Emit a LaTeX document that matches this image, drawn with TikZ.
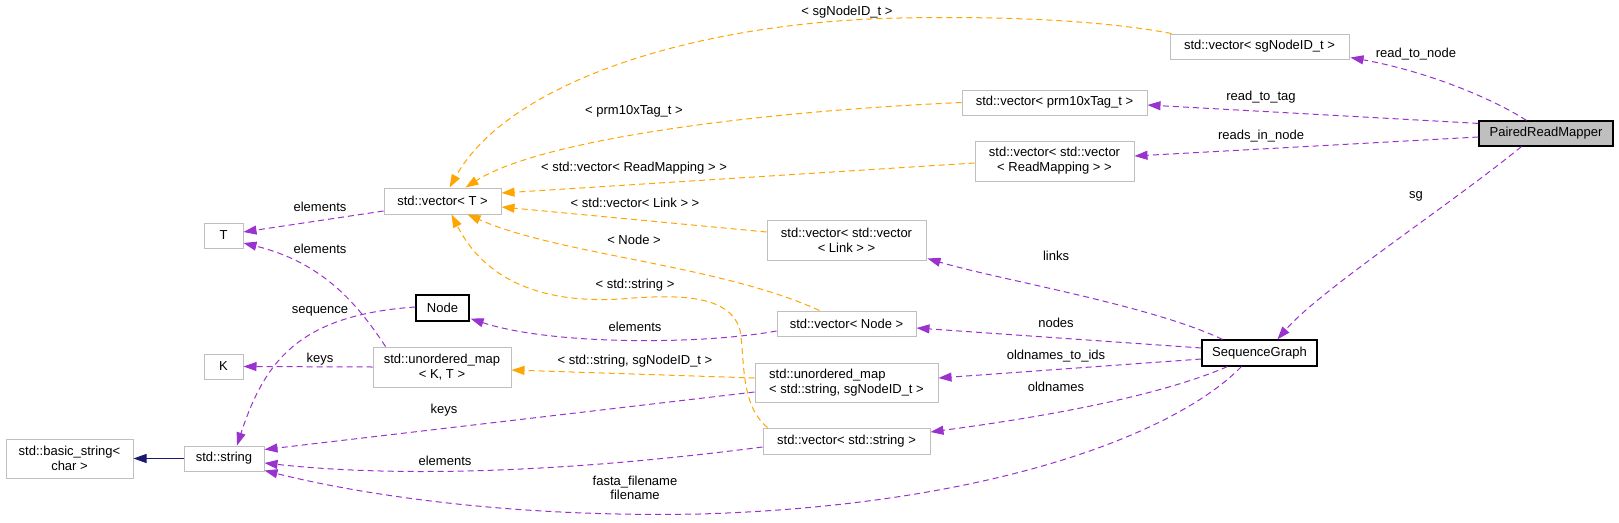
\documentclass[tikz,border=0pt]{standalone}
\usepackage{fontspec}
\setmainfont{Liberation Sans}
\usetikzlibrary{arrows.meta,calc}
\definecolor{usecol}{HTML}{9A32CD}
\definecolor{tplcol}{HTML}{FFA500}
\definecolor{inhcol}{HTML}{191970}
\definecolor{boxgray}{HTML}{BFBFBF}
\begin{document}
\begin{tikzpicture}[x=1pt,y=-1pt,
  font=\fontsize{13}{15}\selectfont,
  cls/.style={draw=boxgray, line width=1pt, fill=white, inner sep=0pt, align=center, minimum height=25},
  doc/.style={cls, draw=black, line width=1.2pt},
  lbl/.style={inner sep=0pt, align=center},
  uses/.style={draw=usecol, line width=1pt, dash pattern=on 6pt off 4pt, -{Triangle[length=13pt,width=9pt]}},
  tpl/.style={draw=tplcol, line width=1pt, dash pattern=on 6pt off 4pt, -{Triangle[length=13pt,width=9pt]}},
  inh/.style={draw=inhcol, line width=1pt, -{Triangle[length=13pt,width=9pt]}}
]
\useasboundingbox (0,0) rectangle (1619,522);

% nodes
\node[cls, minimum width=179] (sgv) at (1259.5,46.5) {std::vector< sgNodeID\_t >};
\node[doc, fill=boxgray, minimum width=134] (prm) at (1546,133.5) {PairedReadMapper};
\node[cls, minimum width=185] (tagv) at (1054.5,102.5) {std::vector< prm10xTag\_t >};
\node[cls, minimum width=159, minimum height=40] (rmv) at (1054.5,161) {std::vector< std::vector\\< ReadMapping > >};
\node[cls, minimum width=117, minimum height=26] (vt) at (442.5,201) {std::vector< T >};
\node[cls, minimum width=39] (T) at (223.5,235.5) {T};
\node[cls, minimum width=159, minimum height=40] (linkv) at (846.5,240) {std::vector< std::vector\\< Link > >};
\node[doc, minimum width=53, minimum height=26] (Nd) at (442.5,308) {Node};
\node[cls, minimum width=139] (nodev) at (846.5,323.5) {std::vector< Node >};
\node[doc, minimum width=115, minimum height=26] (sg) at (1259.5,353) {SequenceGraph};
\node[cls, minimum width=39] (K) at (223.5,366.5) {K};
\node[cls, minimum width=138, minimum height=40] (umkt) at (442,367) {std::unordered\_map\\< K, T >};
\node[cls, minimum width=183, minimum height=39, align=left] (umss) at (846.5,382.5) {std::unordered\_map\\< std::string, sgNodeID\_t >};
\node[cls, minimum width=167, minimum height=26] (strv) at (846.5,441) {std::vector< std::string >};
\node[cls, minimum width=127, minimum height=39] (bstr) at (69.5,458.5) {std::basic\_string<\\char >};
\node[cls, minimum width=80] (str) at (224,458.5) {std::string};

% usage edges
\draw[uses] ($(prm.north west)+(48,0)$) .. controls (1495,100) and (1430,72) .. ($(sgv.south east)+(1,-2)$);
\draw[uses] ($(prm.north west)+(0,3)$) -- ($(tagv.east)+(0,2.5)$);
\draw[uses] ($(prm.west)+(0,3.5)$) -- ($(rmv.east)+(0,-5)$);
\draw[uses] ($(prm.south west)+(43,0)$) .. controls (1450,205) and (1320,290) .. ($(sg.north west)+(76,0)$);
\draw[uses] ($(sg.north west)+(21,0)$) .. controls (1150,305) and (1000,280) .. ($(linkv.south east)+(1,-2)$);
\draw[uses] ($(sg.west)+(0,-5)$) -- ($(nodev.east)+(0,4.5)$);
\draw[uses] ($(sg.west)+(0,6)$) -- ($(umss.east)+(0,-4.5)$);
\draw[uses] ($(sg.south west)+(26,0)$) .. controls (1150,400) and (1020,420) .. ($(strv.east)+(0,-9)$);
\draw[uses] ($(sg.south west)+(40,0)$) .. controls (1180,430) and (1000,505) .. (700,514) .. controls (500,518) and (350,492) .. ($(str.south east)+(0,-1)$);
\draw[uses] ($(strv.west)+(0,6)$) .. controls (600,468) and (420,480) .. ($(str.east)+(0,4.5)$);
\draw[uses] ($(umss.west)+(0,9.5)$) -- ($(str.north east)+(0,4)$);
\draw[uses] ($(Nd.west)+(0,-1)$) .. controls (300,315) and (265,360) .. ($(str.north)+(13,0)$);
\draw[uses] ($(nodev.west)+(0,7.5)$) .. controls (700,345) and (550,345) .. ($(Nd.south east)+(1,-3)$);
\draw[uses] (umkt.west) -- (K.east);
\draw[uses] ($(umkt.north west)+(13,0)$) .. controls (355,300) and (320,262) .. ($(T.east)+(0,7.5)$);
\draw[uses] ($(vt.west)+(0,10)$) -- ($(T.east)+(0,-3.5)$);

% template edges
\draw[tpl] ($(sgv.north west)+(2,0)$) .. controls (1100,20) and (1000,16) .. (900,18) .. controls (700,22) and (510,80) .. ($(vt.north west)+(66,0)$);
\draw[tpl] (tagv.west) .. controls (750,112) and (540,140) .. ($(vt.north west)+(82,0)$);
\draw[tpl] ($(rmv.west)+(0,2)$) -- ($(vt.east)+(0,-8)$);
\draw[tpl] ($(linkv.west)+(0,-8)$) -- ($(vt.east)+(0,6)$);
\draw[tpl] ($(nodev.north west)+(43,0)$) .. controls (720,265) and (560,255) .. ($(vt.south west)+(84,0)$);
\draw[tpl] ($(strv.north west)+(5,0)$) .. controls (740,405) and (745,360) .. (740,330) .. controls (730,295) and (680,295) .. (633,298) .. controls (560,305) and (490,290) .. ($(vt.south west)+(68,0)$);
\draw[tpl] ($(umss.west)+(0,-4.5)$) -- ($(umkt.east)+(0,3)$);

% inheritance
\draw[inh] (str.west) -- (bstr.east);

% labels
\node[lbl] (l1) at (847,12) {< sgNodeID\_t >};
\node[lbl] (l2) at (1416,54) {read\_to\_node};
\node[lbl] (l3) at (634,111) {< prm10xTag\_t >};
\node[lbl] (l4) at (1261,97) {read\_to\_tag};
\node[lbl] (l5) at (1261,136) {reads\_in\_node};
\node[lbl] (l6) at (634,168) {< std::vector< ReadMapping > >};
\node[lbl] (l7) at (635,203) {< std::vector< Link > >};
\node[lbl] (l8) at (320,207) {elements};
\node[lbl] (l9) at (1416,196) {sg};
\node[lbl] (l10) at (634,240) {< Node >};
\node[lbl] (l11) at (320,249) {elements};
\node[lbl] (l12) at (1056,256) {links};
\node[lbl] (l13) at (635,285) {< std::string >};
\node[lbl] (l14) at (320,311) {sequence};
\node[lbl] (l15) at (635,327) {elements};
\node[lbl] (l16) at (1056,323) {nodes};
\node[lbl] (l17) at (320,359) {keys};
\node[lbl] (l18) at (635,361) {< std::string, sgNodeID\_t >};
\node[lbl] (l19) at (1056,356) {oldnames\_to\_ids};
\node[lbl] (l20) at (1056,387) {oldnames};
\node[lbl] (l21) at (444,410) {keys};
\node[lbl] (l22) at (445,461) {elements};
\node[lbl, font=\fontsize{13}{14}\selectfont] (l23) at (635,488) {fasta\_filename\\filename};
\end{tikzpicture}
\end{document}
